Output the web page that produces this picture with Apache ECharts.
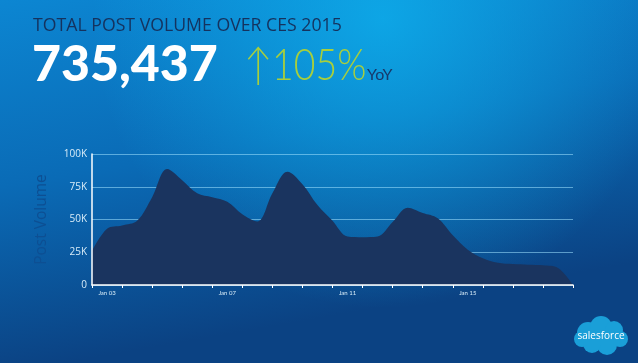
<!DOCTYPE html>
<html>
<head>
<meta charset="utf-8">
<script src="https://cdn.jsdelivr.net/npm/echarts@6/dist/echarts.min.js"></script>
<style>
html,body{margin:0;padding:0;width:638px;height:363px;overflow:hidden;}
#c{width:638px;height:363px;}
</style>
</head>
<body>
<div id="c"></div>
<script>
// Half-day points, Jan 03 00h to Jan 19 00h
const categories = [
  'Jan 03 00h','Jan 03 12h','Jan 04 00h','Jan 04 12h','Jan 05 00h','Jan 05 12h',
  'Jan 06 00h','Jan 06 12h','Jan 07 00h','Jan 07 12h','Jan 08 00h','Jan 08 12h',
  'Jan 09 00h','Jan 09 12h','Jan 10 00h','Jan 10 12h','Jan 11 00h','Jan 11 12h',
  'Jan 12 00h','Jan 12 12h','Jan 13 00h','Jan 13 12h','Jan 14 00h','Jan 14 12h',
  'Jan 15 00h','Jan 15 12h','Jan 16 00h','Jan 16 12h','Jan 17 00h','Jan 17 12h',
  'Jan 18 00h','Jan 18 12h','Jan 19 00h'
];
const postVolume = [
  26000, 43000, 45500, 49000, 67000, 88500, 80000, 70000, 67000, 63500,
  54000, 48500, 70000, 86500, 77000, 61000, 49000, 37000, 36500, 37000,
  48000, 59000, 55000, 51000, 38000, 27000, 20500, 17000, 16000, 15500,
  15000, 13000, 0
];
const xTickLabels = ['Jan 03', 'Jan 07', 'Jan 11', 'Jan 15'];
const yTickLabels = ['0', '25K', '50K', '75K', '100K'];
const titleText = 'TOTAL POST VOLUME OVER CES 2015';
const totalText = '735,437';
const growthText = '\u2191105%';
const yoyText = 'YoY';

const chart = echarts.init(document.getElementById('c'));
const labelIdx = {};
xTickLabels.forEach(function (l) {
  const i = categories.indexOf(l + ' 12h');
  if (i >= 0) labelIdx[i] = l;
});

const option = {
  backgroundColor: '#0b6ab4',
  animation: false,
  grid: { left: 92, right: 65, top: 154, bottom: 78 },
  xAxis: {
    type: 'category',
    data: categories,
    boundaryGap: false,
    z: 5,
    axisLine: { lineStyle: { color: '#ffffff', width: 1.5 } },
    axisTick: { show: true, length: 3, interval: function (i) { return i % 2 === 0; }, lineStyle: { color: '#ffffff' } },
    axisLabel: {
      interval: function (i) { return labelIdx[i] !== undefined; },
      formatter: function (v, i) { return labelIdx[i] || ''; },
      color: '#d8ecf8', fontSize: 6, margin: 5, fontFamily: 'Lato'
    },
    splitLine: { show: false }
  },
  yAxis: [{
    type: 'value', min: 0, max: 100000, interval: 25000,
    position: 'left',
    name: 'Post Volume', nameLocation: 'middle', nameGap: 42, nameRotate: 90,
    nameTextStyle: { color: '#0d4f93', fontSize: 15.5, fontFamily: 'Open Sans' },
    axisLine: { show: false },
    axisTick: { show: false },
    axisLabel: {
      color: '#d8ecf8', fontSize: 10, margin: 5, fontFamily: 'Open Sans',
      formatter: function (v) { return yTickLabels[Math.round(v / 25000)]; }
    },
    splitLine: { show: true, lineStyle: { color: 'rgba(160,225,255,0.55)', width: 1 } }
  }, {
    type: 'value', min: 0, max: 100000, interval: 25000,
    position: 'left', offset: 0, z: 5,
    axisLine: { show: true, lineStyle: { color: '#ffffff', width: 1.5 } },
    axisTick: { show: false },
    axisLabel: { show: false },
    splitLine: { show: false }
  }],
  series: [{
    type: 'line',
    data: postVolume,
    smooth: 0.35,
    symbol: 'none',
    lineStyle: { width: 0 },
    areaStyle: { color: '#1a345f', opacity: 1 },
    z: 2
  }],
  graphic: [
    {
      type: 'rect', z: -20, silent: true, shape: { x: 0, y: 0, width: 638, height: 363 },
      style: { fill: { type: 'linear', x: 0, y: 0, x2: 0.1, y2: 1, colorStops: [
        { offset: 0, color: '#0c86d2' },
        { offset: 0.5, color: '#0a6bb6' },
        { offset: 1, color: '#0b4283' }
      ] } }
    },
    {
      type: 'rect', z: -19, silent: true, shape: { x: 0, y: 0, width: 638, height: 363 },
      style: { fill: { type: 'radial', x: 0.6, y: 0.05, r: 0.8, colorStops: [
        { offset: 0, color: 'rgba(14,180,240,0.75)' },
        { offset: 1, color: 'rgba(14,180,240,0)' }
      ] } }
    },
    { type: 'text', left: 33, top: 17, style: { text: titleText, fill: '#15325e', font: '17.7px "Open Sans"' } },
    { type: 'text', left: 32, top: 40, style: { text: totalText, fill: '#ffffff', font: '900 50px Lato' } },
    { type: 'text', x: 244, y: 44, scaleX: 0.85, style: { text: growthText, fill: '#a8cf3c', font: '300 44px Lato', verticalAlign: 'top' } },
    { type: 'text', x: 367, y: 67, style: { text: yoyText, fill: '#18386a', font: '16px Lato', verticalAlign: 'top' } },
    {
      type: 'group', left: 574, top: 316,
      children: [
        { type: 'circle', shape: { cx: 14, cy: 18, r: 11 }, style: { fill: '#1a9fd8' } },
        { type: 'circle', shape: { cx: 27, cy: 12, r: 11 }, style: { fill: '#1a9fd8' } },
        { type: 'circle', shape: { cx: 40, cy: 15, r: 9 }, style: { fill: '#1a9fd8' } },
        { type: 'circle', shape: { cx: 46, cy: 24, r: 8 }, style: { fill: '#1a9fd8' } },
        { type: 'circle', shape: { cx: 33, cy: 30, r: 10 }, style: { fill: '#1a9fd8' } },
        { type: 'circle', shape: { cx: 18, cy: 29, r: 9 }, style: { fill: '#1a9fd8' } },
        { type: 'circle', shape: { cx: 8, cy: 24, r: 8 }, style: { fill: '#1a9fd8' } },
        { type: 'rect', shape: { x: 8, y: 14, width: 38, height: 16 }, style: { fill: '#1a9fd8' } },
        { type: 'text', x: 27, y: 21, style: { text: 'salesforce', fill: '#ffffff', font: '10px "Open Sans"', align: 'center', verticalAlign: 'middle' } }
      ]
    }
  ]
};
chart.setOption(option);
</script>
</body>
</html>
